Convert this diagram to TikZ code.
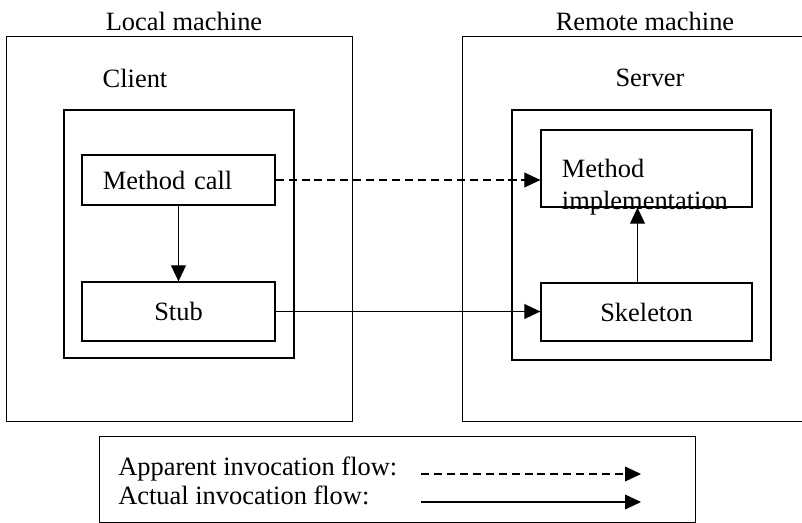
\documentclass[tikz,border=0pt]{standalone}
\usepackage{fontspec}
\setmainfont{Liberation Serif}
\usepackage{tikz}
\usetikzlibrary{arrows.meta}

\begin{document}
\begin{tikzpicture}[x=0.025cm, y=-0.025cm,
        every node/.style={font=\fontsize{18.8}{22.7}\selectfont},
        box/.style={draw, line width=0.85pt, rectangle, inner sep=0pt},
        proc/.style={box, inner xsep=0.525cm, align=left},
        dashline/.style={dash pattern=on 5.7pt off 3.5pt},
        flow/.style={line width=0.85pt, -{Triangle[length=0.4cm, width=0.37cm]}}]
        \useasboundingbox (0,0) rectangle (802,523);

        \node (locallbl) at (184,21) {Local machine};
        \node (remotelbl) at (645,21) {Remote machine};
        \node [box, line width=0.7pt, minimum width=8.625cm, minimum height=9.6cm] (local) at (179.5,229) {};
        \node [box, line width=0.7pt, minimum width=8.55cm, minimum height=9.6cm] (remote) at (634,229) {};

        \node (clientlbl) at (135,78) {Client};
        \node (serverlbl) at (650,78) {Server};
        \node [box, minimum width=5.75cm, minimum height=6.2cm] (client) at (179,234) {};
        \node [box, minimum width=6.475cm, minimum height=6.25cm] (server) at (641.5,235) {};

        \node [proc, text width=3.775cm, minimum height=1.25cm] (call) at (178.5,180) {Method call};
        \node [box, minimum width=4.825cm, minimum height=1.475cm] (stub) at (178.5,311.5) {Stub};
        \node [proc, text width=4.225cm, minimum height=1.925cm, text depth=0pt] (impl) at (646.5,168.5) {Method\\implementation};
        \node [box, minimum width=5.275cm, minimum height=1.45cm] (skel) at (646.5,312) {Skeleton};

        \draw [flow, dashline] (call.east) -- (call.east -| impl.west);
        \draw [flow] (call) -- (stub);
        \draw [flow] (stub.east) -- (stub.east -| skel.west);
        \draw [flow] ([xshift=-0.225cm]skel.north) -- ([xshift=-0.225cm]impl.south);

        % legend
        \node [box, line width=0.7pt, minimum width=14.875cm, minimum height=2.125cm] (legend) at (397.5,479.5) {};
        \node [anchor=west, align=left, inner sep=0pt, font=\fontsize{18.8}{20.6}\selectfont] (legendtxt) at (118,481)
                {Apparent invocation flow:\\Actual invocation flow:};
        \coordinate (dashA) at (421,474);
        \coordinate (dashB) at (641,474);
        \coordinate (solidA) at (421,502);
        \coordinate (solidB) at (641,502);
        \draw [flow, dashline] (dashA) -- (dashB);
        \draw [flow] (solidA) -- (solidB);
\end{tikzpicture}
\end{document}
